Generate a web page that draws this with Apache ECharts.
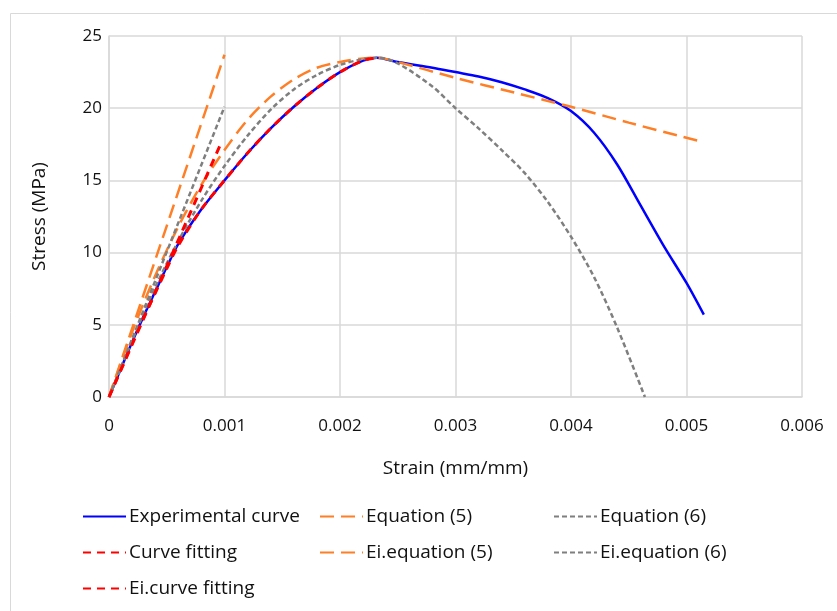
<!DOCTYPE html>
<html>
<head>
<meta charset="utf-8">
<script src="https://cdn.jsdelivr.net/npm/echarts@6/dist/echarts.min.js"></script>
<style>
  html, body {margin: 0; padding: 0; background: #fff;}
  #chart {width: 837px; height: 611px;}
</style>
</head>
<body>
<div id="chart"></div>
<script>
// strain (mm/mm) and stress (MPa)
const expStrain = [0, 0.0001, 0.0002, 0.0003, 0.0004, 0.0005, 0.0006, 0.0008, 0.001, 0.0012, 0.0014, 0.0016, 0.0018, 0.002, 0.0022, 0.00232,
  0.0025, 0.0028, 0.003, 0.0032, 0.0034, 0.0036, 0.0038, 0.004, 0.0042, 0.0044, 0.0046, 0.0048, 0.005, 0.00515]
const expStress = [0, 1.9, 3.8, 5.6, 7.3, 9.0, 10.6, 13.0, 15.0, 16.9, 18.6, 20.1, 21.4, 22.5, 23.3, 23.5,
  23.2, 22.8, 22.5, 22.2, 21.8, 21.3, 20.7, 19.8, 18.3, 16.1, 13.3, 10.5, 7.9, 5.7]

const fitStrain = [0, 0.0001, 0.0002, 0.0003, 0.0004, 0.0005, 0.0006, 0.0008, 0.001, 0.0012, 0.0014, 0.0016, 0.0018, 0.002, 0.0022, 0.00232]
const fitStress = [0, 1.85, 3.7, 5.5, 7.2, 8.9, 10.5, 13.0, 15.0, 16.9, 18.6, 20.1, 21.4, 22.5, 23.3, 23.5]

const eq5Strain = [0, 0.0002, 0.0004, 0.0006, 0.0008, 0.001, 0.0012, 0.0014, 0.0016, 0.0018, 0.002, 0.0022, 0.00232,
  0.0025, 0.003, 0.0035, 0.004, 0.0045, 0.00512]
const eq5Stress = [0, 4.5, 8.4, 11.8, 14.7, 17.1, 19.2, 20.8, 22.0, 22.8, 23.2, 23.45, 23.5,
  23.2, 22.1, 21.1, 20.1, 19.0, 17.7]

const eq6Strain = [0, 0.0002, 0.0004, 0.0006, 0.0008, 0.001, 0.0012, 0.0014, 0.0016, 0.0018, 0.002, 0.0022, 0.00232,
  0.0025, 0.0028, 0.003, 0.0032, 0.0034, 0.0036, 0.0038, 0.004, 0.0042, 0.0044, 0.00464]
const eq6Stress = [0, 3.9, 7.6, 10.8, 13.6, 16.0, 18.1, 19.9, 21.3, 22.3, 23.0, 23.4, 23.5,
  23.1, 21.5, 20.0, 18.6, 17.1, 15.5, 13.5, 11.1, 8.3, 4.8, 0]

const eiEq5Strain = [0, 0.001]
const eiEq5Stress = [0, 23.7]
const eiEq6Strain = [0, 0.001]
const eiEq6Stress = [0, 20.1]
const eiFitStrain = [0, 0.00096]
const eiFitStress = [0, 17.4]

const xTicks = ['0', '0.001', '0.002', '0.003', '0.004', '0.005', '0.006']

const pairs = (xs, ys) => xs.map((x, i) => [x, ys[i]])

const font = 'Open Sans, Noto Sans, sans-serif'
const textColor = '#111'
const gridColor = '#d9d9d9'

function line(name, xs, ys, color, width, dash, smooth) {
  return {
    name,
    type: 'line',
    data: pairs(xs, ys),
    symbol: 'none',
    smooth: smooth ? 0.3 : false,
    lineStyle: {color, width, type: dash || 'solid'},
    itemStyle: {color},
    z: 3,
  }
}

const legendBase = {
  orient: 'vertical',
  itemWidth: 43,
  itemHeight: 14,
  itemGap: 17,
  itemStyle: {opacity: 0},
  textStyle: {fontFamily: font, fontSize: 19, color: textColor, padding: [0, 0, 0, -2]},
}

const chart = echarts.init(document.getElementById('chart'))
chart.setOption({
  animation: false,
  backgroundColor: '#fff',
  graphic: [{
    type: 'rect',
    shape: {x: 10.5, y: 13.5, width: 900, height: 700},
    style: {fill: 'none', stroke: gridColor, lineWidth: 1},
    silent: true,
  }],
  grid: {left: 109, top: 36, right: 35, bottom: 214},
  xAxis: {
    type: 'value',
    min: 0,
    max: 0.006,
    interval: 0.001,
    name: 'Strain (mm/mm)',
    nameLocation: 'middle',
    nameGap: 62,
    nameTextStyle: {fontFamily: font, fontSize: 19, color: textColor},
    axisLine: {lineStyle: {color: gridColor, width: 1.5}},
    axisTick: {show: false},
    axisLabel: {
      fontFamily: font, fontSize: 17, color: textColor, margin: 21,
      formatter: (v) => xTicks[Math.round(v / 0.001)],
    },
    splitLine: {lineStyle: {color: gridColor, width: 1.5}},
  },
  yAxis: {
    type: 'value',
    min: 0,
    max: 25,
    interval: 5,
    name: 'Stress (MPa)',
    nameLocation: 'middle',
    nameGap: 60,
    nameTextStyle: {fontFamily: font, fontSize: 19, color: textColor},
    axisLine: {show: true, lineStyle: {color: gridColor, width: 1.5}},
    axisTick: {show: false},
    axisLabel: {fontFamily: font, fontSize: 17, color: textColor, margin: 7},
    splitLine: {lineStyle: {color: gridColor, width: 1.5}},
  },
  legend: [
    Object.assign({}, legendBase, {left: 77, top: 502, data: ['Experimental curve', 'Curve fitting', 'Ei.curve fitting']}),
    Object.assign({}, legendBase, {left: 314, top: 502, data: ['Equation (5)', 'Ei.equation (5)']}),
    Object.assign({}, legendBase, {left: 548, top: 502, data: ['Equation (6)', 'Ei.equation (6)']}),
  ],
  series: [
    line('Experimental curve', expStrain, expStress, '#0000ff', 2.5, 'solid', true),
    line('Equation (5)', eq5Strain, eq5Stress, '#ff7f27', 2.5, [14, 7], true),
    line('Equation (6)', eq6Strain, eq6Stress, '#7f7f7f', 2.5, [5, 3], true),
    line('Curve fitting', fitStrain, fitStress, '#ff0000', 3, [8, 6], true),
    line('Ei.equation (5)', eiEq5Strain, eiEq5Stress, '#ff7f27', 2.5, [14, 7], false),
    line('Ei.equation (6)', eiEq6Strain, eiEq6Stress, '#7f7f7f', 2.5, [5, 3], false),
    line('Ei.curve fitting', eiFitStrain, eiFitStress, '#ff0000', 3, [8, 6], false),
  ],
})
</script>
</body>
</html>
